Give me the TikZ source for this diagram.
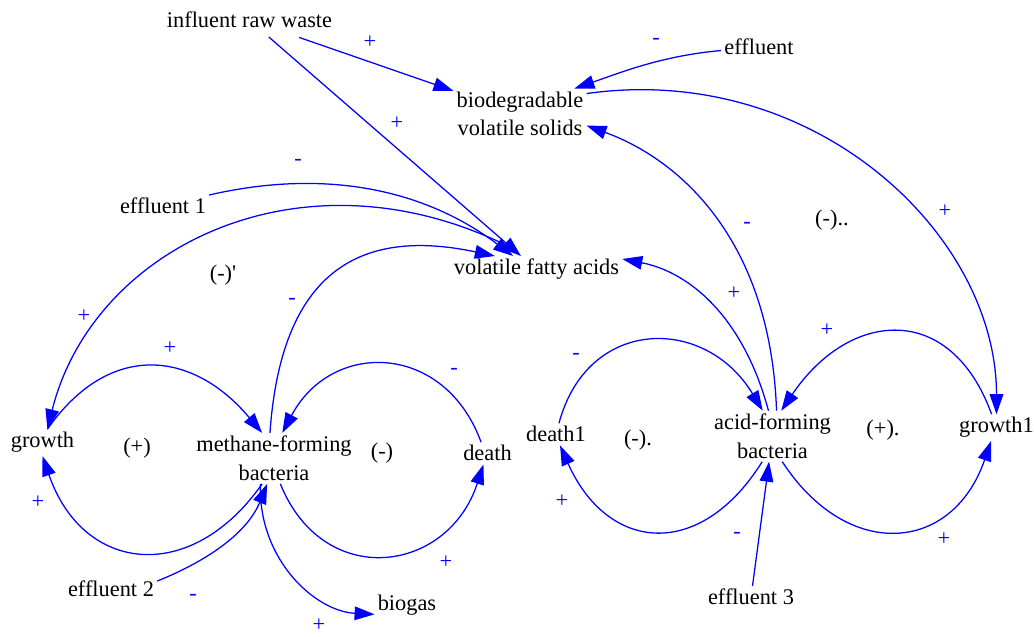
\documentclass[tikz,border=0pt]{standalone}
\usepackage{fontspec}
\setmainfont{Liberation Serif}
\usetikzlibrary{arrows.meta}

\begin{document}
\begin{tikzpicture}[
    x=0.025cm, y=0.025cm,
    >={Triangle[length=0.5cm,width=0.34cm]},
    font=\fontsize{15.9pt}{20.3pt}\selectfont,
    var/.style = {inner sep=2.1pt, anchor=base},
    stock/.style = {inner sep=2.1pt, align=center},
    loopname/.style = {inner sep=0pt, anchor=base},
    pol/.style = {inner sep=0pt, text=blue},
    link/.style = {->, draw=blue, line width=0.9pt}
  ]
  \useasboundingbox (0,0) rectangle (1034,637);
  % variables
  \node[var]   (influent) at (249.5,609)  {influent raw waste};
  \node[stock] (bvs)      at (520,523.1)  {biodegradable\\volatile solids};
  \node[var]   (effluent) at (759,582)    {effluent};
  \node[var]   (eff1)     at (163,423)    {effluent 1};
  \node[var]   (vfa)      at (536.5,362)  {volatile fatty acids};
  \node[var]   (growth)   at (42.5,189)   {growth};
  \node[stock] (methane)  at (274,178.6)  {methane-forming\\bacteria};
  \node[var]   (death)    at (487.5,176)  {death};
  \node[var]   (death1)   at (556,195)    {death1};
  \node[stock] (acid)     at (772.5,200.8) {acid-forming\\bacteria};
  \node[var]   (growth1)  at (996.5,204)  {growth1};
  \node[var]   (eff2)     at (111,40)     {effluent 2};
  \node[var]   (biogas)   at (407,26)     {biogas};
  \node[var]   (eff3)     at (751,32)     {effluent 3};
  % loop names
  \node[loopname] (loopA) at (137,183) {(+)};
  \node[loopname] (loopB) at (382,178) {(-)};
  \node[loopname] (loopC) at (223,356) {(-)\textquotesingle};
  \node[loopname] (loopD) at (832,411) {(-)..};
  \node[loopname] (loopE) at (638,191) {(-).};
  \node[loopname] (loopF) at (883,201) {(+).};
  % links
  \draw[link, shorten <=13pt] (influent) -- (bvs);
  \draw[link, shorten <=6pt] (influent) -- (vfa);
  \draw[link] (effluent) to[out=185, in=19, out distance=1.5cm, in distance=1.2cm] (bvs.25);
  \draw[link] (bvs.17) to[out=8, in=90, out distance=5.75cm, in distance=4.5cm] (growth1.north);
  \draw[link] (acid.81) to[out=92, in=-20, out distance=4.25cm, in distance=2.5cm] (bvs.-10);
  \draw[link] (acid.99) to[out=105, in=-11, out distance=2.375cm, in distance=1.75cm] (vfa.7);
  \draw[link] (eff1.north east) to[out=13, in=143, out distance=3cm, in distance=2.75cm] (vfa.150);
  \draw[link] ([yshift=10pt]vfa.160) to[out=155, in=76, out distance=5.625cm, in distance=4.625cm] (growth.70);
  \draw[link] (methane.99) to[out=86, in=168, out distance=4cm, in distance=3.5cm] (vfa.162);
  \draw[link] (growth.70) to[out=55, in=130, distance=2.7cm] (methane.115);
  \draw[link] (methane.-115) to[out=235, in=-71, distance=3.1cm] (growth.south);
  \draw[link] (death.120) to[out=110, in=62, distance=2.65cm] (methane.72);
  \draw[link] (methane.-76) to[out=-68, in=-108, distance=2.875cm] (death.-110);
  \draw[link] (eff2.10) to[out=22, in=-112, out distance=1.5cm, in distance=1.25cm] (methane.-105);
  \draw[link] (methane.-118) to[out=-92, in=177, out distance=1.875cm, in distance=1.5cm] (biogas.195);
  \draw[link] (death1.75) to[out=75, in=121, distance=2.775cm] (acid.111);
  \draw[link] (acid.-112) to[out=238, in=-66, distance=2.925cm] (death1.-70);
  \draw[link] (growth1.110) to[out=110, in=56, distance=3.025cm] (acid.71);
  \draw[link] (acid.-69) to[out=-57, in=-109, distance=2.975cm] (growth1.-112);
  \draw[link] (eff3) -- (acid);
  % polarities
  \foreach \px/\py/\sg [count=\i] in {370/595/+, 397/514/+, 656/596/-, 945/426/+,
      747/412/-, 734/344/+, 298/475/-, 84/321/+, 292/336/-, 170/289/+,
      38/135/+, 454/266/-, 446/75/+, 193/40/-, 319/12/+, 576/281/-,
      562/136/+, 827/307/+, 944/98/+, 737/102/-}
    \node[pol] (pol\i) at (\px,\py) {\sg};
\end{tikzpicture}
\end{document}
